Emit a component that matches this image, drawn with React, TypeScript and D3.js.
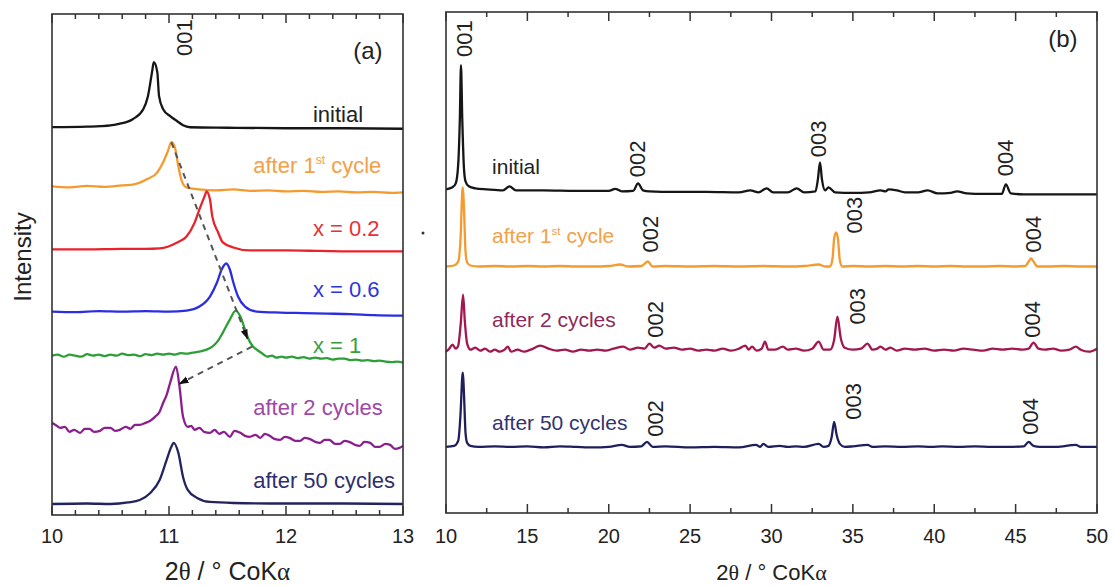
import React from "react";
import * as d3 from "d3";

type Pt = [number, number];

const FONT = '"Liberation Sans", Arial, sans-serif';
const SERIF = '"Liberation Serif", "Times New Roman", serif';

// ---------- panel (a): 2θ 10–13 ----------
const aNames = ["initial", "after 1st cycle", "x = 0.2", "x = 0.6", "x = 1", "after 2 cycles", "after 50 cycles"];
const aOffsets = [387, 325, 264, 202, 159, 90, 11];
const aColors = ["#161616", "#f59a2e", "#e8232b", "#2a2ee0", "#2e9e38", "#8b1f8e", "#23235f"];
const aLabelColors = ["#222222", "#f3a048", "#e83035", "#2f34e0", "#3a9e40", "#a048a6", "#2f2f6e"];

const aInitial: Pt[] = [[10, 0], [10.3, 0.5], [10.42, 1], [10.5, 1.8], [10.58, 3.5], [10.69, 8], [10.78, 18], [10.82, 31], [10.855, 55], [10.87, 65], [10.9, 55], [10.915, 31], [10.95, 18], [11.01, 11], [11.07, 6], [11.12, 2], [11.18, 0], [11.5, -0.5], [12, -1], [12.5, -1], [13, -1.5]];
const aAfter1: Pt[] = [[10, 3], [10.15, 2], [10.3, 3.5], [10.45, 2.5], [10.6, 4], [10.7, 5], [10.81, 10], [10.9, 17], [10.95, 27], [10.99, 38], [11.02, 47], [11.05, 42], [11.08, 23], [11.11, 8], [11.15, 2], [11.26, 0], [11.4, -1], [11.55, 0], [11.7, -1.5], [11.85, -1], [12, -2], [12.15, -1.5], [12.3, -2.5], [12.45, -2], [12.6, -3], [12.75, -2.5], [12.9, -3.5], [13, -3]];
const aX02: Pt[] = [[10, 1], [10.3, 1], [10.6, 1.5], [10.8, 1.5], [10.92, 2], [11.07, 8], [11.15, 14], [11.22, 28], [11.26, 41], [11.31, 56], [11.32, 59], [11.35, 51], [11.37, 34], [11.42, 18], [11.46, 8], [11.55, 3], [11.69, 0], [12, 0], [12.3, -0.5], [12.6, -1], [13, -1]];
const aX06: Pt[] = [[10, 1], [10.2, 0.5], [10.4, 1.5], [10.6, 1], [10.8, 1.5], [11, 1], [11.15, 2], [11.26, 6], [11.35, 16], [11.41, 30], [11.45, 43], [11.49, 49], [11.52, 43], [11.55, 30], [11.59, 16], [11.65, 6], [11.75, 1], [11.95, 0], [12.15, -0.5], [12.35, -1], [12.55, -1.5], [12.75, -2.5], [13, -3]];
const aX1: Pt[] = [[10, 0], [10.05, 1], [10.1, -1], [10.15, 1], [10.2, 0], [10.25, -1], [10.3, 1.5], [10.35, 0], [10.4, 1], [10.45, -0.5], [10.5, 1], [10.55, 0], [10.6, 2], [10.65, 0.5], [10.7, 1], [10.75, -0.5], [10.8, 1.5], [10.85, 0.5], [10.9, 2], [10.95, 1], [11, 2], [11.05, 1], [11.1, 2.5], [11.15, 2], [11.2, 3], [11.26, 4], [11.32, 6], [11.37, 9], [11.42, 15], [11.46, 23], [11.52, 36], [11.57, 45], [11.61, 39], [11.65, 26], [11.69, 14], [11.72, 9], [11.75, 6], [11.8, 2], [11.84, -1], [11.88, 0], [11.92, -2], [11.96, -1], [12, -2], [12.05, -1], [12.1, -2.5], [12.15, -1.5], [12.2, -3], [12.25, -2], [12.3, -3], [12.35, -2.5], [12.4, -4], [12.45, -3], [12.5, -3], [12.55, -4.5], [12.6, -4], [12.65, -5], [12.7, -4.5], [12.75, -5.5], [12.8, -5], [12.85, -6], [12.9, -6.5], [12.95, -6], [13, -7]];
const aAfter2: Pt[] = [[10, 2], [10.04, -1], [10.07, -3], [10.11, -2], [10.15, -7], [10.19, -5], [10.24, -8], [10.28, -4], [10.32, -4], [10.36, -7], [10.41, -6], [10.45, -3], [10.5, -3], [10.54, -6], [10.58, -5], [10.63, -2], [10.67, -4], [10.71, 0], [10.75, 0], [10.8, 2], [10.84, 4], [10.88, 8], [10.92, 13], [10.95, 22], [10.98, 30], [11.01, 42], [11.06, 58], [11.09, 38], [11.12, 8], [11.16, -2], [11.19, -1], [11.22, -5], [11.26, -3], [11.3, -7], [11.35, -8], [11.39, -5], [11.43, -9], [11.47, -7], [11.52, -12], [11.56, -6], [11.61, -8], [11.65, -11], [11.69, -12], [11.74, -10], [11.78, -13], [11.82, -9], [11.86, -11], [11.9, -14], [11.95, -15], [11.99, -12], [12.03, -13], [12.08, -16], [12.12, -16], [12.16, -13], [12.2, -14], [12.25, -17], [12.29, -18], [12.33, -15], [12.37, -15], [12.42, -19], [12.46, -19], [12.5, -16], [12.54, -17], [12.59, -20], [12.63, -21], [12.67, -17], [12.72, -18], [12.76, -22], [12.8, -22], [12.85, -19], [12.89, -20], [12.93, -24], [12.97, -23], [13, -21]];
const aAfter50: Pt[] = [[10, 0], [10.3, 0.5], [10.5, 0], [10.65, 1.5], [10.75, 4], [10.84, 11], [10.92, 24], [10.98, 44], [11.02, 57], [11.04, 61], [11.08, 51], [11.12, 27], [11.16, 14], [11.24, 6], [11.35, 2], [11.55, 1], [12, 0.5], [12.5, 0.5], [13, 0]];
const aSeries = [aInitial, aAfter1, aX02, aX06, aX1, aAfter2, aAfter50];

const aMajorTicks = [10, 11, 12, 13];
const aMinorTicks = [10.2, 10.4, 10.6, 10.8, 11.2, 11.4, 11.6, 11.8, 12.2, 12.4, 12.6, 12.8];
// shift arrows: 1st cycle -> x = 1 -> after 2 cycles
const aArrows: { from: Pt; to: Pt }[] = [
  { from: [11.02, 372], to: [11.67, 176] },
  { from: [11.71, 168], to: [11.09, 131] },
];

// ---------- panel (b): 2θ 10–50 ----------
const bNames = ["initial", "after 1st cycle", "after 2 cycles", "after 50 cycles"];
const bOffsets = [323, 246, 163, 66];
const bColors = ["#161616", "#f59a2e", "#a3174f", "#1f1f5e"];
const bLabelColors = ["#222222", "#f3a048", "#8e2a5a", "#33336f"];

const bInitial: Pt[] = [[10, 0], [10.4, 2], [10.6, 6], [10.75, 25], [10.85, 70], [10.92, 124], [11, 70], [11.1, 22], [11.2, 8], [11.4, 3], [11.8, 1], [12.5, 0], [13.5, -1], [13.9, 3], [14.3, -1], [16, -1], [18, -1.5], [20, -1.5], [20.4, 0.5], [20.8, -2], [21.5, -1.5], [21.8, 6], [22.1, -1], [22.5, -2], [24, -2.5], [26, -2.5], [28, -3], [28.7, -1], [29.2, -3], [29.7, 1], [30.1, -3], [31, -3], [31.55, 1], [32, -3], [32.7, -2], [32.85, 10], [32.98, 27], [33.1, 10], [33.3, -1], [33.5, 2], [33.9, -3], [35, -3.5], [36, -3], [36.7, -1], [37, -2], [37.2, 0], [37.7, -1], [38.2, -3], [39, -3], [39.6, -1], [40.2, -4], [41, -3.5], [41.4, -2], [42, -4], [43, -4.5], [44.15, -4.5], [44.4, 5], [44.7, -4], [45.5, -5], [47, -5], [48.5, -5], [50, -5]];
const bAfter1: Pt[] = [[10, 0], [10.5, 1], [10.75, 5], [10.9, 30], [11, 75], [11.04, 79], [11.1, 60], [11.2, 15], [11.3, 4], [11.5, 1], [12, 0], [13, 0.5], [14, 0], [15, 0.5], [16, 0], [17, 0.5], [18, 0], [19, 0], [20, 0.5], [20.7, 2], [21.2, 0], [22, 0.5], [22.4, 5], [22.7, 0], [23.5, 0.5], [25, 0], [26.5, 0.5], [28, 0], [29.5, 0.5], [31, 0], [32, 0.5], [32.9, 2], [33.3, 0], [33.6, 0], [33.75, 8], [33.85, 28], [33.97, 34], [34.08, 28], [34.2, 6], [34.35, 0], [35, 0.5], [36, 0], [37, 0.5], [38, 0], [39, 0.5], [40, 0], [41, 0.5], [42, 0], [43, 0], [44, 0.5], [45, 0], [45.6, 0.5], [45.8, 5], [45.95, 8], [46.1, 5], [46.35, 0], [47, 0], [48, 0.5], [49, 0], [50, 0]];
const bAfter2: Pt[] = [[10, -2], [10.2, 1], [10.4, 5], [10.6, 1], [10.75, 4], [10.9, 25], [11.05, 55], [11.15, 30], [11.3, 6], [11.5, 0], [11.8, 2], [12.1, -1], [12.4, 1], [12.7, -2], [13, 0], [13.3, -2], [13.6, 0], [13.8, 3], [14, -2], [14.4, 0], [14.8, -2], [15.2, 0], [15.8, 4], [16.3, 1], [16.8, -1], [17.3, 0], [17.8, -2], [18.3, 0], [18.8, -1], [19.3, 0], [19.8, -1], [20.3, 1], [20.9, 3], [21.3, 0], [21.8, 2], [22.2, 1], [22.5, 6], [22.8, 2], [23.1, 4], [23.5, 1], [24, 2], [24.5, 0], [25, 1], [25.5, -1], [26, 0], [26.5, -1], [27, 1], [27.5, -1], [28, 1], [28.4, 4], [28.6, 0], [28.8, 3], [29.1, -1], [29.4, 1], [29.6, 8], [29.8, 0], [30.2, 0], [30.7, 3], [31, 0], [31.5, 1], [32, -1], [32.5, 1], [32.9, 8], [33.2, 0], [33.6, 0], [33.85, 10], [34.05, 33], [34.25, 12], [34.5, 2], [35, 0], [35.5, 1], [35.9, 6], [36.2, 0], [36.5, 1], [36.7, 3], [37, 0], [37.3, 2], [37.7, -1], [38.2, 1], [38.8, 0], [39.4, 1], [40, -1], [40.6, 0], [41.2, -1], [41.8, 1], [42.4, 0], [43, -1], [43.6, 1], [44.2, 0], [44.8, 1], [45.4, 0], [45.8, 1], [46.1, 7], [46.4, 1], [46.8, 0], [47.3, 1], [47.8, -1], [48.3, 0], [48.7, 3], [49, 0], [49.5, -2], [50, 1]];
const bAfter50: Pt[] = [[10, 0], [10.5, 1], [10.75, 6], [10.9, 35], [11, 70], [11.04, 74], [11.1, 55], [11.2, 14], [11.3, 4], [11.5, 1], [12, 0], [13, 0.5], [14, 0], [15, 0.5], [16, -0.5], [17, 0.5], [18, 0], [19, -0.5], [20, 0], [20.8, 2], [21.3, 0], [22, 0.5], [22.35, 5], [22.7, 0], [23.5, 0.5], [25, -0.5], [26.5, 0], [28, -0.5], [29.05, 2], [29.3, 0], [29.5, 3], [29.8, 0], [30.5, 1], [31, 0], [31.5, 0.5], [32, 0], [32.9, 3], [33.2, 0], [33.5, 1], [33.7, 10], [33.85, 25], [34, 12], [34.2, 3], [34.5, 0], [35, 0.5], [35.9, 2], [36.2, 0], [37, 0.5], [38, 0], [39, 0.5], [39.8, 0], [40.5, 0.5], [41.5, 0], [42.5, 0.5], [43.5, 0], [44.5, 0], [45.5, 0.5], [45.8, 5], [46.1, 1], [46.5, 0], [47.5, 0], [48.7, 2], [49, 0], [50, 0]];
const bSeries = [bInitial, bAfter1, bAfter2, bAfter50];

const bMajorTicks = [10, 15, 20, 25, 30, 35, 40, 45, 50];
const bMinorTicks = [12.5, 17.5, 22.5, 27.5, 32.5, 37.5, 42.5, 47.5];

// reflection labels: [text, 2θ, intensity]
const aHkl: [string, number, number][] = [["001", 11.2, 458]];
const bHkl: [string, number, number][] = [
  ["001", 11.6, 455],
  ["002", 22.23, 335], ["003", 33.35, 355], ["004", 44.84, 336],
  ["002", 23.03, 260], ["003", 35.56, 279], ["004", 46.56, 260],
  ["002", 23.33, 175], ["003", 35.75, 188], ["004", 46.5, 175],
  ["002", 23.33, 76], ["003", 35.5, 93], ["004", 46.37, 78],
];

// where each trace's name is written: [2θ, intensity]
const aNameAt: Pt[] = [[12.23, 392], [11.72, 341], [12.23, 278], [12.23, 218], [12.23, 162], [11.72, 100], [11.72, 27]];
const bNameAt: Pt[] = [[12.83, 338], [12.83, 269], [12.83, 186], [12.83, 83]];

function Name({ text, x, y, color, size }: { text: string; x: number; y: number; color: string; size: number }) {
  if (text.includes("1st")) {
    const [pre, post] = text.split("1st");
    return (
      <text x={x} y={y} fill={color} fontSize={size} fontFamily={FONT}>
        {pre}1<tspan fontSize={size * 0.55} dy={-size * 0.42}>st</tspan>
        <tspan dy={size * 0.42}>{post}</tspan>
      </text>
    );
  }
  return <text x={x} y={y} fill={color} fontSize={size} fontFamily={FONT}>{text}</text>;
}

function Frame({ x, y, major, minor, tickSize, titleSize }: any) {
  const [x0, x1] = x.range();
  const [yb, yt] = y.range();
  return (
    <g>
      {major.map((t: number) => (
        <g key={"M" + t}>
          <line x1={x(t)} x2={x(t)} y1={yb} y2={yb - 9} stroke="#333" strokeWidth={1.5} />
          <line x1={x(t)} x2={x(t)} y1={yt} y2={yt + 9} stroke="#333" strokeWidth={1.5} />
          <text x={x(t)} y={543} textAnchor="middle" fontSize={tickSize} fontFamily={FONT} fill="#222">{t}</text>
        </g>
      ))}
      {minor.map((t: number) => (
        <g key={"m" + t}>
          <line x1={x(t)} x2={x(t)} y1={yb} y2={yb - 5} stroke="#333" strokeWidth={1.5} />
          <line x1={x(t)} x2={x(t)} y1={yt} y2={yt + 5} stroke="#333" strokeWidth={1.5} />
        </g>
      ))}
      <rect x={x0} y={yt} width={x1 - x0} height={yb - yt} fill="none" stroke="#333" strokeWidth={1.6} />
      <text x={(x0 + x1) / 2} y={580} textAnchor="middle" fontSize={titleSize} fontFamily={FONT} fill="#222">
        2<tspan fontFamily={SERIF}>θ</tspan> / ° CoK<tspan fontFamily={SERIF}>α</tspan>
      </text>
    </g>
  );
}

export default function App() {
  const xA = d3.scaleLinear().domain([10, 13]).range([52, 403]);
  const yA = d3.scaleLinear().domain([0, 500]).range([515, 14]);
  const xB = d3.scaleLinear().domain([10, 50]).range([446, 1097]);
  const yB = d3.scaleLinear().domain([0, 500]).range([513, 12]);

  const lineA = (off: number) => d3.line<Pt>().x((d) => xA(d[0])).y((d) => yA(d[1] + off)).curve(d3.curveMonotoneX);
  const lineB = (off: number) => d3.line<Pt>().x((d) => xB(d[0])).y((d) => yB(d[1] + off)).curve(d3.curveMonotoneX);

  return (
    <svg width={1114} height={586} style={{ position: "absolute", left: 0, top: 0, background: "#fff" }}>
      <defs>
        <marker id="head" viewBox="0 0 10 10" refX="9" refY="5" markerWidth="10" markerHeight="10" markerUnits="userSpaceOnUse" orient="auto">
          <path d="M0,1.5 L10,5 L0,8.5 z" fill="#111" />
        </marker>
      </defs>

      {/* panel (a) */}
      <g>
        {aSeries.map((s, i) => (
          <path key={i} d={lineA(aOffsets[i])(s) || ""} fill="none" stroke={aColors[i]} strokeWidth={2.3} strokeLinejoin="round" />
        ))}
        {aArrows.map((a, i) => (
          <line key={i} x1={xA(a.from[0])} y1={yA(a.from[1])} x2={xA(a.to[0])} y2={yA(a.to[1])}
            stroke="#555" strokeWidth={2} strokeDasharray="6,5" markerEnd="url(#head)" />
        ))}
        {aNames.map((n, i) => (
          <Name key={n} text={n} x={xA(aNameAt[i][0])} y={yA(aNameAt[i][1])} color={aLabelColors[i]} size={22} />
        ))}
        {aHkl.map(([t, q, v], i) => (
          <text key={i} transform={`translate(${xA(q)},${yA(v)}) rotate(-90)`} fontSize={22} fontFamily={FONT} fill="#222">{t}</text>
        ))}
        <text x={xA(12.7)} y={yA(455)} fontSize={24} fontFamily={FONT} fill="#222" textAnchor="middle">(a)</text>
        <Frame x={xA} y={yA} major={aMajorTicks} minor={aMinorTicks} tickSize={20} titleSize={25} />
        <text transform="translate(31,257) rotate(-90)" textAnchor="middle" fontSize={24} fontFamily={FONT} fill="#222">Intensity</text>
      </g>

      <circle cx={423} cy={233} r={1.5} fill="#333" />

      {/* panel (b) */}
      <g>
        {bSeries.map((s, i) => (
          <path key={i} d={lineB(bOffsets[i])(s) || ""} fill="none" stroke={bColors[i]} strokeWidth={2.3} strokeLinejoin="round" />
        ))}
        {bNames.map((n, i) => (
          <Name key={n} text={n} x={xB(bNameAt[i][0])} y={yB(bNameAt[i][1])} color={bLabelColors[i]} size={21} />
        ))}
        {bHkl.map(([t, q, v], i) => (
          <text key={i} transform={`translate(${xB(q)},${yB(v)}) rotate(-90)`} fontSize={22} fontFamily={FONT} fill="#222">{t}</text>
        ))}
        <text x={xB(47.9)} y={yB(465)} fontSize={24} fontFamily={FONT} fill="#222" textAnchor="middle">(b)</text>
        <Frame x={xB} y={yB} major={bMajorTicks} minor={bMinorTicks} tickSize={20} titleSize={22} />
      </g>
    </svg>
  );
}
